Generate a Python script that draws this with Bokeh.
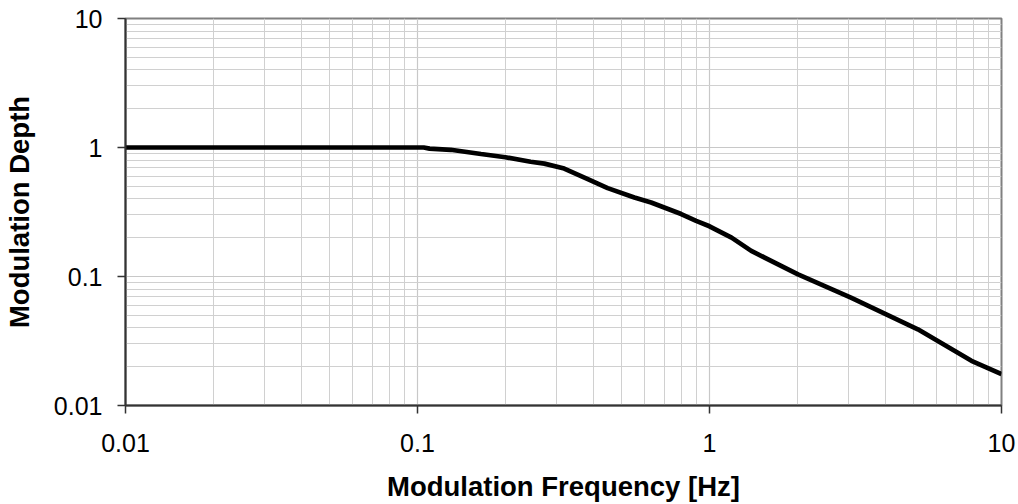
from bokeh.plotting import figure
from bokeh.models import FixedTicker, Range1d
from bokeh.embed import file_html
from bokeh.resources import INLINE

# Data
freq_hz = [0.01, 0.02, 0.05, 0.1, 0.105, 0.11, 0.13, 0.165, 0.2, 0.244, 0.272,
           0.318, 0.383, 0.448, 0.553, 0.631, 0.8, 0.9, 1.0, 1.19, 1.39, 2.01,
           3.05, 5.17, 7.89, 10.0]
mod_depth = [1.0, 1.0, 1.0, 1.0, 1.0, 0.98, 0.96, 0.89, 0.84, 0.775, 0.75,
             0.687, 0.569, 0.484, 0.41, 0.375, 0.305, 0.27, 0.245, 0.2, 0.158,
             0.104, 0.0687, 0.039, 0.0222, 0.0175]

major_ticks = [0.01, 0.1, 1, 10]
tick_labels = ["0.01", "0.1", "1", "10"]
minor_ticks = [m * d for d in [0.01, 0.1, 1] for m in range(2, 10)]

W, H = 1018, 504
p = figure(width=W, height=H, x_axis_type="log", y_axis_type="log",
           x_range=Range1d(0.01, 10), y_range=Range1d(0.01, 10),
           output_backend="svg", toolbar_location=None,
           min_border_left=125, min_border_right=17, min_border_top=18,
           min_border_bottom=99)
p.background_fill_color = "white"
p.border_fill_color = "white"
p.outline_line_color = "#808080"
p.outline_line_width = 2

for ax in (p.xaxis[0], p.yaxis[0]):
    ax.ticker = FixedTicker(ticks=major_ticks, minor_ticks=minor_ticks)
    ax.major_label_overrides = {t: l for t, l in zip(major_ticks, tick_labels)}
    ax.major_label_text_font = "Liberation Sans"
    ax.major_label_text_font_size = "25px"
    ax.major_label_text_color = "black"
    ax.axis_label_text_font = "Liberation Sans"
    ax.axis_label_text_font_size = "27.5px"
    ax.axis_label_text_font_style = "bold"
    ax.axis_label_text_color = "black"
    ax.axis_line_color = "#333333"
    ax.axis_line_width = 2
    ax.major_tick_line_color = "#333333"
    ax.major_tick_line_width = 1.5
    ax.major_tick_out = 8
    ax.major_tick_in = 0
    ax.minor_tick_line_color = None

p.xaxis.axis_label = "Modulation Frequency [Hz]"
p.yaxis.axis_label = "Modulation Depth"
p.xaxis.major_label_standoff = 20
p.yaxis.major_label_standoff = 15
p.xaxis.axis_label_standoff = 16
p.yaxis.axis_label_standoff = 16

for g in (p.xgrid[0], p.ygrid[0]):
    g.grid_line_color = "#c8c8c8"
    g.grid_line_width = 1.2
    g.minor_grid_line_color = "#d0d0d0"
    g.minor_grid_line_width = 1

p.line(freq_hz, mod_depth, line_color="black", line_width=4.7)

open("out.html", "w").write(file_html(p, INLINE))
